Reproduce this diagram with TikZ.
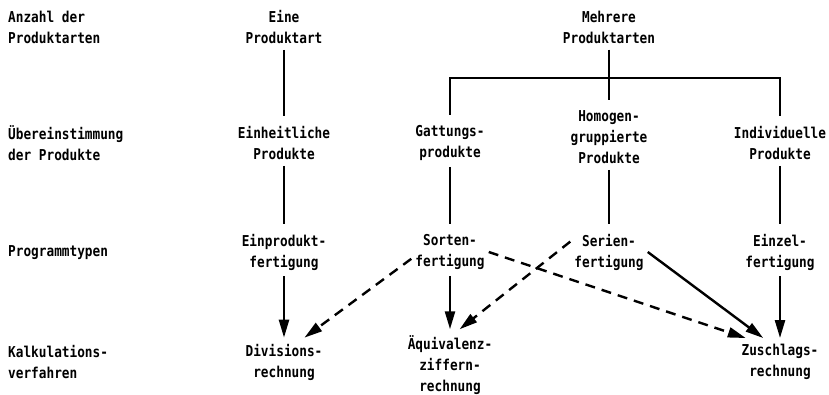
\documentclass[tikz,border=0pt]{standalone}
\usepackage{fontspec}
\setmainfont{DejaVu Sans Mono}[FakeStretch=0.85]
\usepackage{tikz}
\usetikzlibrary{arrows.meta}
\usetikzlibrary{calc}

\begin{document}
\begin{tikzpicture}[x=1pt, y=-1pt, line width=2.4pt,
        text_style/.style={align=center, inner xsep=3pt, inner ysep=5pt, font=\fontsize{15pt}{21pt}\selectfont\bfseries},
        row_style/.style={text_style, align=left, anchor=west},
        line_style/.style={draw=black, shorten >=4pt},
        arrow_style/.style={draw=black, -{Triangle[length=18pt,width=10pt]}},
        dashed_arrow_style/.style={arrow_style, dash pattern=on 10pt off 7pt}]

        \useasboundingbox (0,0) rectangle (829,395);

        \node [row_style] (r1) at (4,27) {Anzahl der\\Produktarten};

        \node [row_style] (r2) at (4,143) {Übereinstimmung\\der Produkte};

        \node [row_style] (r3) at (4,253) {Programmtypen};

        \node [row_style] (r4) at (4,362) {Kalkulations-\\verfahren};

        \node [text_style] (a1) at (284,27) {Eine\\Produktart};

        \node [text_style] (a2) at (284,143) {Einheitliche\\Produkte};

        \node [text_style] (a3) at (284,252) {Einprodukt-\\fertigung};

        \node [text_style] (a4) at (284,362) {Divisions-\\rechnung};

        \node [text_style] (b2) at (450,143) {Gattungs-\\produkte};

        \node [text_style] (b3) at (450,252) {Sorten-\\fertigung};

        \node [text_style] (b4) at (450,365) {Äquivalenz-\\ziffern-\\rechnung};

        \node [text_style] (c1) at (609,27) {Mehrere\\Produktarten};

        \node [text_style] (c2) at (609,137) {Homogen-\\gruppierte\\Produkte};

        \node [text_style] (c3) at (609,252) {Serien-\\fertigung};

        \node [text_style] (d2) at (780,143) {Individuelle\\Produkte};

        \node [text_style] (d3) at (780,252) {Einzel-\\fertigung};

        \node [text_style] (d4) at (780,362) {Zuschlags-\\rechnung};

        \coordinate (bar) at (609,78);

        \draw [line_style] (a1) -- (a2);

        \draw [line_style] (a2) -- (a3);

        \draw [arrow_style] (a3) -- (a4);

        \draw [line_style] (c1) -- (c2);

        \draw [line_style] (bar) -| (b2);

        \draw [line_style] (bar) -| (d2);

        \draw [line_style] (b2) -- (b3);

        \draw [line_style] (c2) -- (c3);

        \draw [line_style] (d2) -- (d3);

        \draw [arrow_style] (b3) -- (b4);

        \draw [arrow_style] (d3) -- (d4);

        \draw [arrow_style] (c3.east) -- (d4.125);

        \draw [dashed_arrow_style] (b3.190) -- (a4.50);

        \draw [dashed_arrow_style] (b3.east) -- (d4.145);

        \draw [dashed_arrow_style] (c3.165) -- (b4.75);

\end{tikzpicture}
\end{document}
